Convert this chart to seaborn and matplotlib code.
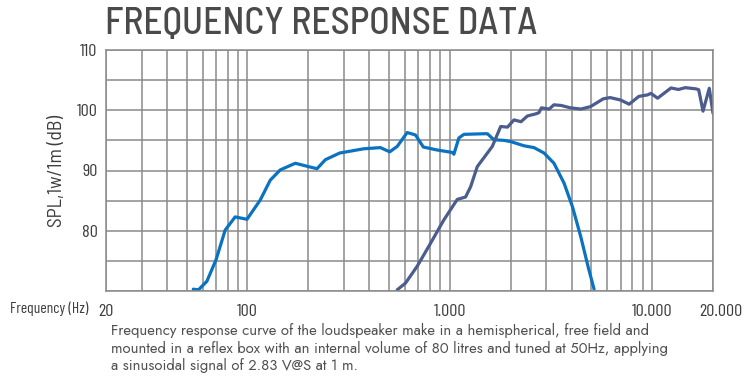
import matplotlib
matplotlib.use("Agg")
import matplotlib.pyplot as plt
import matplotlib.transforms as mtransforms
import seaborn as sns
import pandas as pd
from matplotlib.ticker import FixedLocator, NullFormatter

# ---- data ----
woofer_freq = [54, 57.3, 63, 70, 77.6, 87, 99.5, 115.7, 129.7, 145.3, 172.5, 200, 220.8, 243,
               285.8, 375, 454, 505, 550, 616, 677, 740, 867, 1028, 1048, 1109, 1175, 1476,
               1535, 1653, 1853, 2000, 2328, 2608, 2925, 3274, 3672, 4039, 4442, 4830, 5167]
woofer_spl = [70.3, 70.2, 71.6, 75.2, 80.1, 82.3, 81.9, 85.1, 88.4, 90.1, 91.2, 90.65, 90.3, 91.8,
              92.9, 93.6, 93.8, 93.1, 94.0, 96.3, 95.9, 93.9, 93.4, 93.0, 92.7, 95.4, 96.0, 96.1,
              96.1, 95.1, 95.0, 94.8, 94.1, 93.8, 92.9, 91.2, 87.9, 84.0, 79.0, 74.0, 70.3]

tweeter_freq = [550, 604, 690, 803, 935, 1089, 1197, 1268, 1368, 1535, 1623, 1785, 1930, 2077,
                2250, 2420, 2660, 2760, 2838, 3100, 3270, 3550, 3950, 4450, 4960, 5740, 6200,
                6990, 7700, 8600, 9500, 9870, 10650, 12400, 13500, 14600, 16480, 17000, 17850,
                19170, 20000]
tweeter_spl = [70.2, 71.3, 74.1, 77.9, 81.8, 85.2, 85.6, 87.3, 90.65, 92.9, 94.0, 97.3, 97.2, 98.4,
               98.1, 99.05, 99.4, 99.6, 100.4, 100.2, 100.9, 100.8, 100.4, 100.2, 100.6, 101.9, 102.1,
               101.7, 101.0, 102.3, 102.55, 102.8, 102.0, 103.7, 103.45, 103.75, 103.55, 103.4, 99.85,
               103.65, 99.5]

x_tick_values = [20, 100, 1000, 10000, 20000]
x_tick_labels = ["20", "100", "1.000", "10.000", "20.000"]
x_grid_values = [30, 40, 50, 60, 70, 80, 90, 200, 300, 400, 500, 600, 700, 800, 900,
                 2000, 3000, 4000, 5000, 6000, 7000, 8000, 9000]
y_grid_values = [70, 75, 80, 85, 90, 95, 100, 105, 110]
y_tick_values = [80, 90, 100, 110]

title_text = "FREQUENCY RESPONSE DATA"
ylabel_text = "SPL,1w/1m (dB)"
xlabel_text = "Frequency (Hz)"
caption_text = ("Frequency response curve of the loudspeaker make in a hemispherical, free field and\n"
                "mounted in a reflex box with an internal volume of 80 litres and tuned at 50Hz, applying\n"
                "a sinusoidal signal of 2.83 V@S at 1 m.")

# ---- style ----
sns.set_style("white")
narrow = ["Barlow Condensed", "DejaVu Sans"]
semi = ["Barlow Semi Condensed", "Barlow Condensed", "DejaVu Sans"]
plt.rcParams["font.family"] = narrow

woofer_df = pd.DataFrame({"freq": woofer_freq, "spl": woofer_spl})
tweeter_df = pd.DataFrame({"freq": tweeter_freq, "spl": tweeter_spl})

fig = plt.figure(figsize=(7.44, 3.86), dpi=100)
ax = fig.add_axes([106 / 744, 1 - 291 / 386, (713 - 106) / 744, (291 - 50) / 386])

grid_c = "#8a8a8a"
text_c = "#3d3d3d"
ax.set_xscale("log")
ax.set_xlim(20, 20000)
ax.set_ylim(70, 110)

ax.xaxis.set_major_locator(FixedLocator(x_tick_values))
ax.set_xticklabels(x_tick_labels)
ax.xaxis.set_minor_locator(FixedLocator(x_grid_values))
ax.xaxis.set_minor_formatter(NullFormatter())
ax.yaxis.set_major_locator(FixedLocator(y_grid_values))
ax.set_yticklabels([str(v) if v in y_tick_values else "" for v in y_grid_values])
ax.grid(True, which="both", axis="x", color=grid_c, lw=1.1)
ax.grid(True, which="major", axis="y", color=grid_c, lw=1.1)
ax.set_axisbelow(True)

sns.lineplot(data=woofer_df, x="freq", y="spl", ax=ax, color="#0A72C1", lw=2.3, sort=False)
sns.lineplot(data=tweeter_df, x="freq", y="spl", ax=ax, color="#4B5C8E", lw=2.3, sort=False)

for s in ax.spines.values():
    s.set_color(grid_c)
    s.set_linewidth(1.1)

ax.tick_params(axis="both", which="both", length=0, labelcolor=text_c, labelsize=13)
ax.tick_params(axis="x", which="major", pad=9)
ax.tick_params(axis="y", which="major", pad=6)
ax.set_xlabel("")
ax.set_ylabel(ylabel_text, fontsize=14, color=text_c, labelpad=8, family=semi)

# last x label sits a little right of its tick in the reference
last = ax.get_xticklabels()[-1]
last.set_transform(last.get_transform() + mtransforms.ScaledTranslation(8 / 100, 0, fig.dpi_scale_trans))

fig.text(88 / 744, 1 - 309 / 386, xlabel_text, ha="right", va="center",
         fontsize=11.2, color=text_c)
fig.text(105 / 744, 1 - 24 / 386, title_text, ha="left", va="center",
         fontsize=27, color="#4a4a4a", fontweight="medium", family=semi)
fig.text(111 / 744, 1 - 348 / 386, caption_text, ha="left", va="center",
         fontsize=10.7, color="#505050", family=["Jost", "Lato", "DejaVu Sans"], linespacing=1.22)

fig.savefig("out.png", dpi=100)
